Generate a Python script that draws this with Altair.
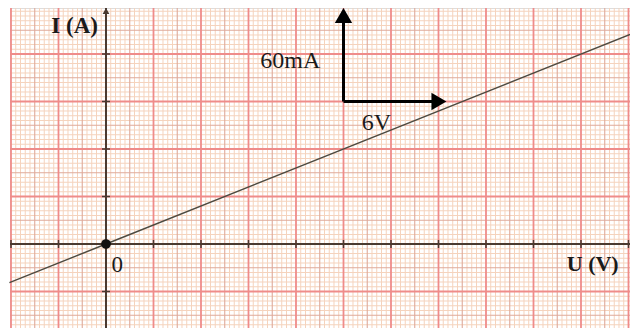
import altair as alt
import pandas as pd

# ---- values (U in V, I in mA) ----
U_line = [-6.1, 0.0, 33.1]
I_line = [-24.4, 0.0, 132.4]

origin_U = [0.0]
origin_I = [0.0]

U_axis_ticks = [-6, -3, 3, 6, 9, 12, 15, 18, 21, 24, 27, 30, 33]
I_axis_ticks = [-30, 30, 60, 90, 120]

# scale arrows: corner (15 V, 90 mA)
arrow_corner_U = 15.0
arrow_corner_I = 90.0
arrow_tip_U = 21.5
arrow_tip_I = 149.0

label_text = ["I (A)", "U (V)", "0", "60mA", "6V"]
label_U = [-3.45, 29.1, 0.35, 9.75, 16.15]
label_I = [133.0, -17.0, -17.5, 111.0, 72.0]

# grid positions (graph paper): fine every 0.3 V / 3 mA
U_grid_k = list(range(-20, 111))
I_grid_k = list(range(-17, 50))
U_grid = [round(0.3 * k, 2) for k in U_grid_k]
I_grid = [3 * k for k in I_grid_k]

XDOM = [-6.063, 33.095]
YDOM = [-53.05, 149.05]


def X(field="U"):
    return alt.X(f"{field}:Q", scale=alt.Scale(domain=XDOM, nice=False, zero=False), axis=None)


def Y(field="I"):
    return alt.Y(f"{field}:Q", scale=alt.Scale(domain=YDOM, nice=False, zero=False), axis=None)


ug = pd.DataFrame({"U": U_grid, "k": U_grid_k})
ig = pd.DataFrame({"I": I_grid, "k": I_grid_k})

ug_fine = ug[(ug.k % 5) != 0]
ug_mid = ug[((ug.k % 5) == 0) & ((ug.k % 10) != 0)]
ug_major = ug[(ug.k % 10) == 0]
ig_fine = ig[(ig.k % 5) != 0]
ig_mid = ig[((ig.k % 5) == 0) & ((ig.k % 10) != 0)]
ig_major = ig[(ig.k % 10) == 0]

BG = "#fcefd6"
FINE = "#f5d3bd"
MID = "#dfaa9a"
MAJOR = "#ef8c8a"
AXIS = "#4a3a30"
TXT = "#1a1a1a"

layers = []
layers.append(alt.Chart(ug_fine).mark_rule(color=FINE, strokeWidth=1).encode(x=X()))
layers.append(alt.Chart(ig_fine).mark_rule(color=FINE, strokeWidth=1).encode(y=Y()))
layers.append(alt.Chart(ug_mid).mark_rule(color=MID, strokeWidth=1.1).encode(x=X()))
layers.append(alt.Chart(ig_mid).mark_rule(color=MID, strokeWidth=1.1).encode(y=Y()))
layers.append(alt.Chart(ug_major).mark_rule(color=MAJOR, strokeWidth=1.8).encode(x=X()))
layers.append(alt.Chart(ig_major).mark_rule(color=MAJOR, strokeWidth=1.8).encode(y=Y()))

# axes
axis_df = pd.DataFrame({"U": [0.0], "I": [0.0]})
layers.append(alt.Chart(axis_df).mark_rule(color=AXIS, strokeWidth=2).encode(y=Y()))
layers.append(alt.Chart(axis_df).mark_rule(color=AXIS, strokeWidth=2).encode(x=X()))
layers.append(
    alt.Chart(pd.DataFrame({"U": [0.0], "I": [YDOM[1]]}))
    .mark_point(shape="triangle-up", filled=True, size=45, color=AXIS, opacity=1, yOffset=3)
    .encode(x=X(), y=Y())
)
layers.append(
    alt.Chart(pd.DataFrame({"U": U_axis_ticks, "I": [0.0] * len(U_axis_ticks)}))
    .mark_tick(orient="vertical", size=8, thickness=1.5, color=AXIS, opacity=1)
    .encode(x=X(), y=Y())
)
layers.append(
    alt.Chart(pd.DataFrame({"U": [0.0] * len(I_axis_ticks), "I": I_axis_ticks}))
    .mark_tick(orient="horizontal", size=8, thickness=1.5, color=AXIS, opacity=1)
    .encode(x=X(), y=Y())
)

# characteristic line
layers.append(
    alt.Chart(pd.DataFrame({"U": U_line, "I": I_line}))
    .mark_line(color="#4d4a40", strokeWidth=1.4)
    .encode(x=X(), y=Y())
)
layers.append(
    alt.Chart(pd.DataFrame({"U": origin_U, "I": origin_I}))
    .mark_circle(size=95, color="#111111", opacity=1)
    .encode(x=X(), y=Y())
)

# scale arrows
shaft_v = pd.DataFrame({"U": [arrow_corner_U], "I": [arrow_corner_I], "I2": [arrow_tip_I - 5.0]})
shaft_h = pd.DataFrame({"U": [arrow_corner_U], "U2": [arrow_tip_U - 0.5], "I": [arrow_corner_I]})
layers.append(
    alt.Chart(shaft_v).mark_rule(color="black", strokeWidth=3)
    .encode(x=X(), y=Y(), y2="I2:Q")
)
layers.append(
    alt.Chart(shaft_h).mark_rule(color="black", strokeWidth=3)
    .encode(x=X(), x2="U2:Q", y=Y())
)
layers.append(
    alt.Chart(pd.DataFrame({"U": [arrow_corner_U], "I": [arrow_tip_I]}))
    .mark_point(shape="triangle-up", filled=True, size=300, color="black", opacity=1, yOffset=7.5)
    .encode(x=X(), y=Y())
)
layers.append(
    alt.Chart(pd.DataFrame({"U": [arrow_tip_U], "I": [arrow_corner_I]}))
    .mark_point(shape="triangle-right", filled=True, size=300, color="black", opacity=1, xOffset=-7.5)
    .encode(x=X(), y=Y())
)

# labels
lab = pd.DataFrame({"t": label_text, "U": label_U, "I": label_I})
text_styles = {
    "I (A)": dict(fontSize=23, fontWeight="bold"),
    "U (V)": dict(fontSize=22, fontWeight="bold"),
    "0": dict(fontSize=23),
    "60mA": dict(fontSize=24),
    "6V": dict(fontSize=24),
}
for t, st in text_styles.items():
    layers.append(
        alt.Chart(lab[lab.t == t])
        .mark_text(font="Liberation Serif", align="left", baseline="alphabetic", color=TXT, **st)
        .encode(x=X(), y=Y(), text="t:N")
    )

chart = (
    alt.layer(*layers)
    .properties(width=620, height=320, autosize=alt.AutoSizeParams(type="none"),
                padding={"left": 2, "top": 0, "right": 0, "bottom": 0})
    .configure_view(fill=BG, stroke=None)
    .configure(background="white")
)

chart.save("out.html", embed_options={"renderer": "svg", "actions": False})
